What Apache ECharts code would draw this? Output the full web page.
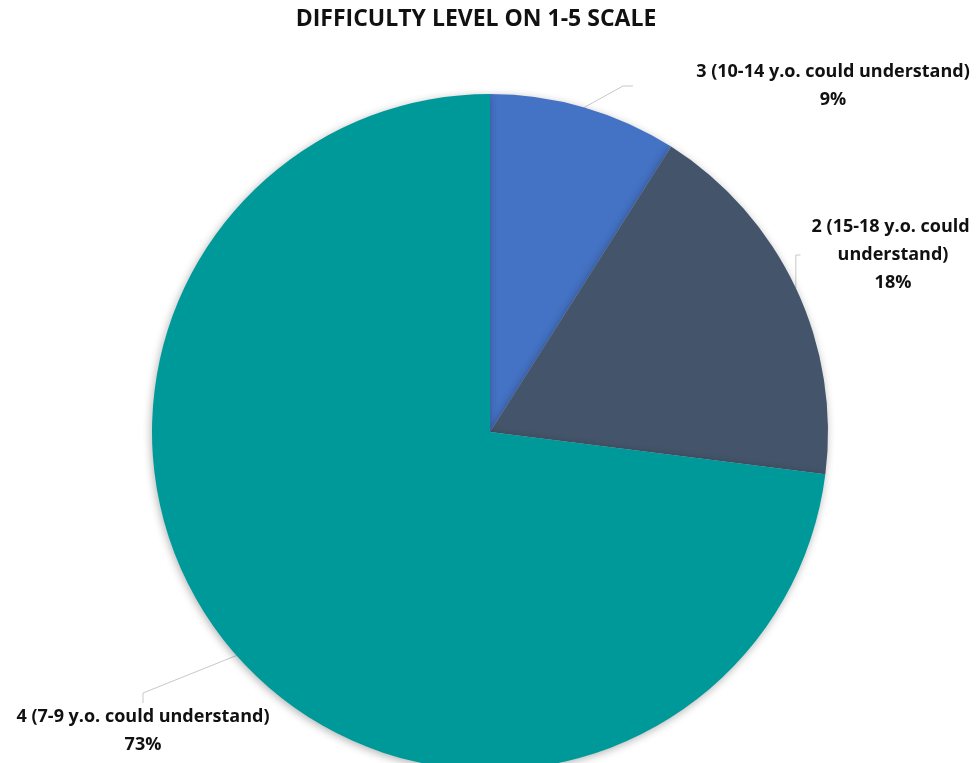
<!DOCTYPE html>
<html>
<head>
<meta charset="utf-8">
<script src="https://cdn.jsdelivr.net/npm/echarts@6/dist/echarts.min.js"></script>
<style>
  html, body { margin: 0; padding: 0; background: #fff; }
  #chart { width: 979px; height: 763px; }
</style>
</head>
<body>
<div id="chart"></div>
<script>
// data, clockwise from 12 o'clock
var levels = ['3 (10-14 y.o. could understand)', '2 (15-18 y.o. could understand)', '4 (7-9 y.o. could understand)']
var shares = [9, 18, 73]
var colors = ['#4472C4', '#44546A', '#009999']

// where each label sits (centre of text block)
var labelPos = [[833, 86], [893, 255], [143, 731]]

var chart = echarts.init(document.getElementById('chart'))

var option = {
  animation: false,
  title: {
    text: 'DIFFICULTY LEVEL ON 1-5 SCALE',
    left: 471,
    top: 3,
    textAlign: 'center',
    textStyle: {
      fontFamily: 'Open Sans',
      fontSize: 23,
      fontWeight: 'bold',
      color: '#111'
    }
  },
  series: [
    {
      type: 'pie',
      center: [490, 432],
      radius: 338,
      startAngle: 90,
      clockwise: true,
      percentPrecision: 0,
      data: levels.map(function (name, i) {
        return {
          name: name,
          value: shares[i],
          itemStyle: { color: colors[i] },
          label: i === 1 ? { width: 185, overflow: 'break' } : { width: 400, overflow: 'none' }
        }
      }),
      itemStyle: {
        borderWidth: 0,
        shadowColor: 'rgba(0,0,0,0.3)',
        shadowBlur: 8,
        shadowOffsetX: -1,
        shadowOffsetY: 2
      },
      label: {
        show: true,
        position: 'outside',
        formatter: '{b}\n{d}%',
        fontFamily: 'Open Sans',
        fontSize: 18,
        fontWeight: 'bold',
        lineHeight: 28,
        color: '#111',
        align: 'center'
      },
      labelLine: {
        show: true,
        length: 10,
        length2: 10,
        lineStyle: { color: '#c8c8c8', width: 1 }
      },
      labelLayout: function (params) {
        var p = labelPos[params.dataIndex]
        return {
          x: p[0],
          y: p[1],
          align: 'center',
          verticalAlign: 'middle'
        }
      },
      emphasis: { disabled: true }
    }
  ]
}

chart.setOption(option)
</script>
</body>
</html>
